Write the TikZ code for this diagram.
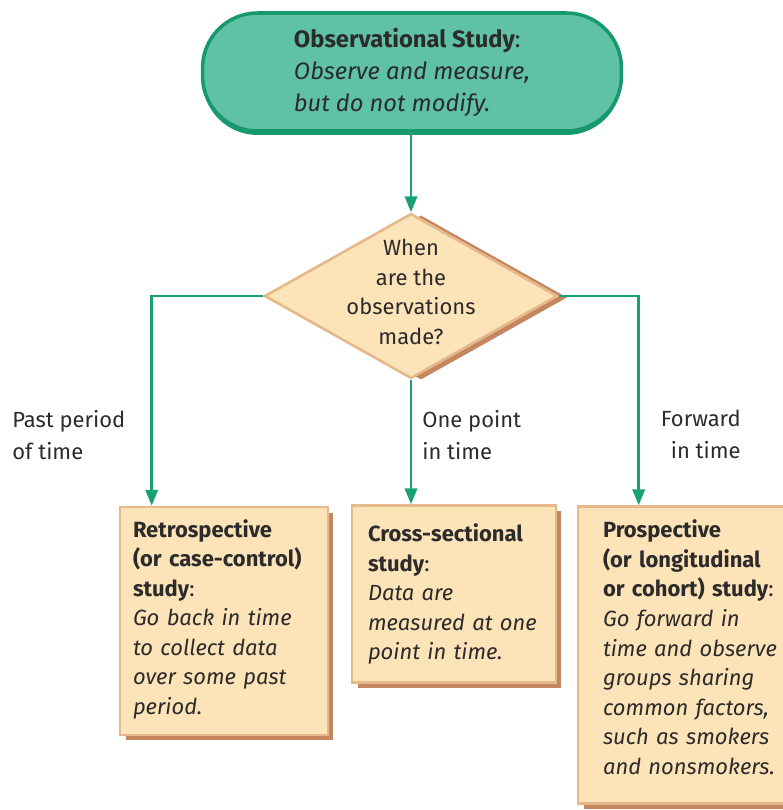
\documentclass[tikz,border=0pt]{standalone}
\usepackage{fontspec}
\setmainfont{Fira Sans}
\usepackage{tikz}
\usetikzlibrary{positioning,shapes.geometric,arrows.meta,shadows}
\definecolor{termfill}{HTML}{5FC2A5}
\definecolor{termdraw}{HTML}{16996F}
\definecolor{flowgreen}{HTML}{19A176}
\definecolor{boxfill}{HTML}{FDE3B8}
\definecolor{boxdraw}{HTML}{E6B98C}
\definecolor{boxshade}{HTML}{C4875F}
\definecolor{ink}{HTML}{2B2B2B}

\begin{document}
\begin{tikzpicture}[x=0.02cm, y=-0.02cm,
  termnode/.style={rectangle, rounded corners=1.1cm, draw=termdraw, line width=2pt, fill=termfill, text=ink, align=left, minimum width=8.38cm, minimum height=2.36cm, font=\fontsize{13.5}{18.2}\selectfont, drop shadow={shadow xshift=0cm, shadow yshift=-0.08cm, fill=termdraw, opacity=1}},
  asknode/.style={diamond, draw=boxdraw, line width=1.5pt, fill=boxfill, minimum width=5.86cm, minimum height=3.3cm, inner sep=0pt, drop shadow={shadow xshift=0.2cm, shadow yshift=-0.03cm, fill=boxshade, opacity=1}},
  asktext/.style={align=center, text=ink, inner sep=0pt, font=\fontsize{12.5}{16.8}\selectfont},
  studynode/.style={rectangle, draw=boxdraw, line width=1.5pt, fill=boxfill, text=ink, align=left, font=\fontsize{12.5}{16.8}\selectfont, drop shadow={shadow xshift=0.11cm, shadow yshift=-0.11cm, fill=boxshade, opacity=1}},
  timelabel/.style={text=ink, inner sep=0pt, font=\fontsize{12.5}{18}\selectfont},
  flow/.style={draw=flowgreen, line width=1.4pt, -{Triangle[length=9pt, width=7pt]}}]
\useasboundingbox (0,0) rectangle (783,810);
\node[termnode] at (412,72) (observe) {\textbf{Observational Study}:\\\textit{Observe and measure,}\\\textit{but do not modify.}};
\node[asknode] at (411,296) (when) {};
\node[asktext] at (411,292) (whentext) {When\\are the\\observations\\made?};
\draw[flow] (observe.south -| when.north) -- (when.north);
\node[studynode, text width=3.64cm, inner xsep=0.26cm, minimum width=4.16cm, minimum height=4.56cm] at (224,621) (retro) {\textbf{Retrospective}\\\textbf{(or case-control)}\\\textbf{study}:\\\textit{Go back in time}\\\textit{to collect data}\\\textit{over some past}\\\textit{period.}\\[-12pt]\mbox{}};
\node[studynode, text width=3.44cm, inner xsep=0.32cm, minimum width=4.08cm, minimum height=3.54cm] at (454,594) (cross) {\textbf{Cross-sectional}\\\textbf{study}:\\\textit{Data are}\\\textit{measured at one}\\\textit{point in time.}};
\node[studynode, text width=3.6cm, inner xsep=0.5cm, minimum width=4.6cm, minimum height=5.94cm] at (693,655) (prosp) {\textbf{Prospective}\\\textbf{(or longitudinal}\\\textbf{or cohort) study}:\\\textit{Go forward in}\\\textit{time and observe}\\\textit{groups sharing}\\\textit{common factors,}\\\textit{such as smokers}\\\textit{and nonsmokers.}\\[-7.8pt]\mbox{}};
\draw[flow] (when.west) -| ([xshift=0.66cm]retro.north west);
\draw[flow] (when.south) -- (when.south |- cross.north);
\draw[flow] (when.east) -| ([xshift=1.24cm]prosp.north west);
\node[timelabel, align=left, anchor=north west] at (12,410) (pastlabel) {Past period\\of time};
\node[timelabel, align=left, anchor=north west] at (422,410) (onelabel) {One point\\in time};
\node[timelabel, align=right, anchor=north east] at (741,410) (fwdlabel) {Forward\\in time};
\end{tikzpicture}
\end{document}
